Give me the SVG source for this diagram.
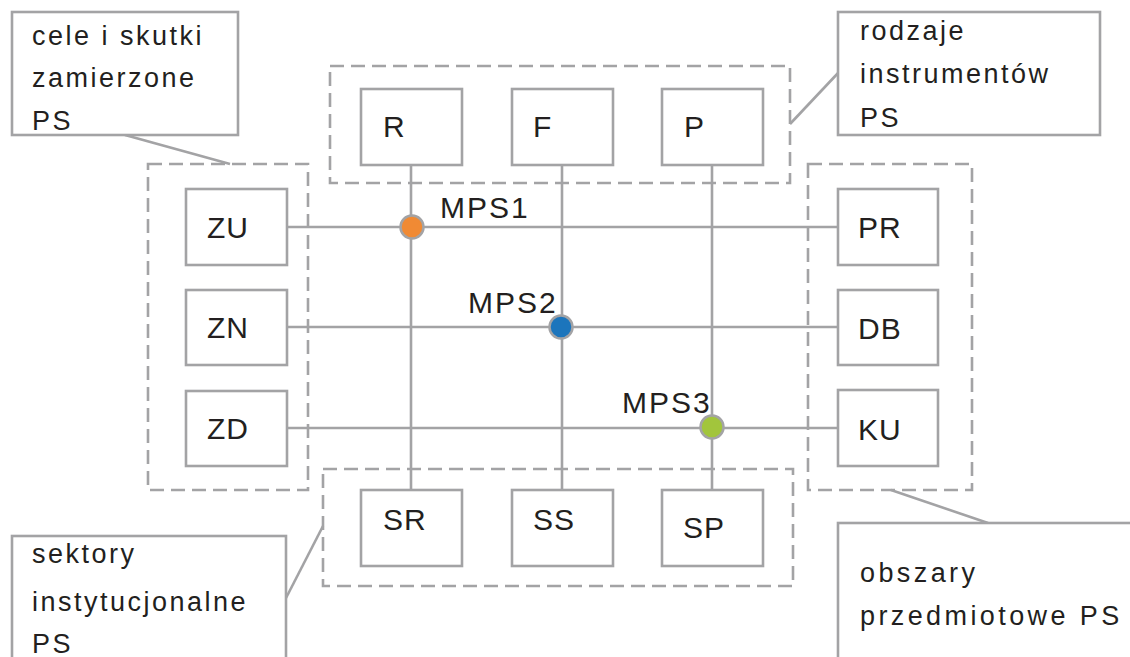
<svg xmlns="http://www.w3.org/2000/svg" width="1130" height="657" viewBox="0 0 1130 657">
  <style>
    .box { fill: #ffffff; stroke: #a3a3a5; stroke-width: 2.6; }
    .group { fill: none; stroke: #a3a3a5; stroke-width: 2.6; stroke-dasharray: 14 7; }
    .link { fill: none; stroke: #a3a3a5; stroke-width: 2.6; }
    .lbl { font-family: "Liberation Sans", Arial, sans-serif; font-size: 30px; fill: #231f20; letter-spacing: 1px; }
    .note { font-family: "Liberation Sans", Arial, sans-serif; font-size: 27px; fill: #231f20; letter-spacing: 2.5px; }
    .mps { font-family: "Liberation Sans", Arial, sans-serif; font-size: 30px; fill: #231f20; letter-spacing: 2px; }
    .dot { stroke: #a3a3a5; stroke-width: 2.5; }
  </style>

  <!-- dashed groupings -->
  <g id="groups">
    <rect class="group" x="148" y="164" width="160" height="326"/>
    <rect class="group" x="330" y="66" width="460" height="117"/>
    <rect class="group" x="808" y="164" width="164" height="326"/>
    <rect class="group" x="323" y="469" width="470" height="117"/>
  </g>

  <!-- callout leaders -->
  <g id="leaders">
    <line class="link" x1="125" y1="135" x2="230" y2="164"/>
    <line class="link" x1="790" y1="124" x2="839" y2="72"/>
    <line class="link" x1="286" y1="598" x2="323" y2="526"/>
    <line class="link" x1="891" y1="490" x2="988" y2="523"/>
  </g>

  <!-- connectors -->
  <g id="connectors">
    <line class="link" x1="287" y1="227" x2="838" y2="227"/>
    <line class="link" x1="287" y1="327" x2="838" y2="327"/>
    <line class="link" x1="287" y1="428" x2="838" y2="428"/>
    <line class="link" x1="411" y1="165" x2="411" y2="490"/>
    <line class="link" x1="562" y1="165" x2="562" y2="490"/>
    <line class="link" x1="712" y1="165" x2="712" y2="490"/>
  </g>

  <!-- callouts -->
  <g id="callout-cele">
    <rect class="box" x="12" y="12" width="226" height="123"/>
    <text class="note" x="32" y="45">cele i skutki</text>
    <text class="note" x="32" y="87">zamierzone</text>
    <text class="note" x="32" y="130">PS</text>
  </g>
  <g id="callout-rodzaje">
    <rect class="box" x="838" y="12" width="262" height="123"/>
    <text class="note" x="860" y="40">rodzaje</text>
    <text class="note" x="860" y="83">instrumentów</text>
    <text class="note" x="860" y="127">PS</text>
  </g>
  <g id="callout-sektory">
    <rect class="box" x="12" y="536" width="274" height="140"/>
    <text class="note" x="32" y="563">sektory</text>
    <text class="note" x="32" y="611">instytucjonalne</text>
    <text class="note" x="32" y="653">PS</text>
  </g>
  <g id="callout-obszary">
    <rect class="box" x="838" y="523" width="320" height="160"/>
    <text class="note" x="860" y="582" style="letter-spacing:3.4px">obszary</text>
    <text class="note" x="860" y="625" style="letter-spacing:3.4px">przedmiotowe PS</text>
  </g>

  <!-- instrument types -->
  <g id="node-R"><rect class="box" x="361" y="89" width="101" height="76"/><text class="lbl" x="383" y="137">R</text></g>
  <g id="node-F"><rect class="box" x="512" y="89" width="101" height="76"/><text class="lbl" x="533" y="137">F</text></g>
  <g id="node-P"><rect class="box" x="662" y="89" width="101" height="76"/><text class="lbl" x="684" y="137">P</text></g>

  <!-- goals -->
  <g id="node-ZU"><rect class="box" x="186" y="189" width="101" height="76"/><text class="lbl" x="207" y="238">ZU</text></g>
  <g id="node-ZN"><rect class="box" x="186" y="290" width="101" height="75"/><text class="lbl" x="207" y="338">ZN</text></g>
  <g id="node-ZD"><rect class="box" x="186" y="391" width="101" height="75"/><text class="lbl" x="207" y="439">ZD</text></g>

  <!-- subject areas -->
  <g id="node-PR"><rect class="box" x="838" y="189" width="100" height="76"/><text class="lbl" x="858" y="238">PR</text></g>
  <g id="node-DB"><rect class="box" x="838" y="290" width="100" height="75"/><text class="lbl" x="858" y="339">DB</text></g>
  <g id="node-KU"><rect class="box" x="838" y="390" width="100" height="76"/><text class="lbl" x="858" y="440">KU</text></g>

  <!-- sectors -->
  <g id="node-SR"><rect class="box" x="361" y="490" width="101" height="76"/><text class="lbl" x="383" y="530">SR</text></g>
  <g id="node-SS"><rect class="box" x="512" y="490" width="101" height="76"/><text class="lbl" x="533" y="530">SS</text></g>
  <g id="node-SP"><rect class="box" x="662" y="490" width="101" height="76"/><text class="lbl" x="683" y="538">SP</text></g>

  <!-- intersection points -->
  <g id="node-MPS1">
    <circle class="dot" cx="412" cy="227" r="11.5" fill="#f08a34"/>
    <text class="mps" x="440" y="218">MPS1</text>
  </g>
  <g id="node-MPS2">
    <circle class="dot" cx="561" cy="327" r="11.5" fill="#1c75bc"/>
    <text class="mps" x="468" y="313">MPS2</text>
  </g>
  <g id="node-MPS3">
    <circle class="dot" cx="712" cy="427" r="11.5" fill="#a2c53c"/>
    <text class="mps" x="622" y="413">MPS3</text>
  </g>
</svg>
